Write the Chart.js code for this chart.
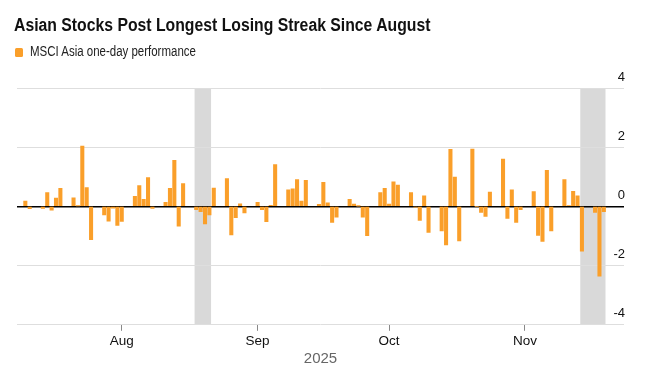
<!DOCTYPE html>
<html>
<head>
<meta charset="utf-8">
<script src="https://cdn.jsdelivr.net/npm/chart.js@4"></script>
<style>
  body { margin: 0; background: #fff; font-family: "Liberation Sans", Arial, sans-serif; }
  #wrap { position: relative; width: 663px; height: 366px; }
  #title {
    position: absolute; left: 14px; top: 16px; font-size: 18px; line-height: 18px;
    font-weight: bold; color: #111; white-space: nowrap;
    transform: scaleX(0.876); transform-origin: left top;
  }
  #legend {
    position: absolute; left: 15px; top: 43px; font-size: 14px; line-height: 16px;
    color: #222; white-space: nowrap;
  }
  #legend .box {
    position: absolute; left: 0; top: 4.7px; width: 8px; height: 9px;
    background: #FA9F2A; border-radius: 1.5px;
  }
  #legend .txt {
    position: absolute; left: 14.7px; top: 0;
    transform: scaleX(0.82); transform-origin: left top;
  }
  canvas { position: absolute; left: 0; top: 0; }
</style>
</head>
<body>
<div id="wrap">
  <canvas id="chart" width="663" height="366"></canvas>
  <div id="title">Asian Stocks Post Longest Losing Streak Since August</div>
  <div id="legend"><span class="box"></span><span class="txt">MSCI Asia one-day performance</span></div>
</div>
<script>
// trading days, MSCI Asia one-day % change
const dates = [
  '2025-07-10', '2025-07-11', '2025-07-14', '2025-07-15', '2025-07-16', '2025-07-17', '2025-07-18',
  '2025-07-21', '2025-07-22', '2025-07-23', '2025-07-24', '2025-07-25',
  '2025-07-28', '2025-07-29', '2025-07-30', '2025-07-31', '2025-08-01',
  '2025-08-04', '2025-08-05', '2025-08-06', '2025-08-07', '2025-08-08',
  '2025-08-11', '2025-08-12', '2025-08-13', '2025-08-14', '2025-08-15',
  '2025-08-18', '2025-08-19', '2025-08-20', '2025-08-21', '2025-08-22',
  '2025-08-25', '2025-08-26', '2025-08-27', '2025-08-28', '2025-08-29',
  '2025-09-01', '2025-09-02', '2025-09-03', '2025-09-04', '2025-09-05',
  '2025-09-08', '2025-09-09', '2025-09-10', '2025-09-11', '2025-09-12',
  '2025-09-15', '2025-09-16', '2025-09-17', '2025-09-18', '2025-09-19',
  '2025-09-22', '2025-09-23', '2025-09-24', '2025-09-25', '2025-09-26',
  '2025-09-29', '2025-09-30', '2025-10-01', '2025-10-02', '2025-10-03',
  '2025-10-06', '2025-10-07', '2025-10-08', '2025-10-09', '2025-10-10',
  '2025-10-13', '2025-10-14', '2025-10-15', '2025-10-16', '2025-10-17',
  '2025-10-20', '2025-10-21', '2025-10-22', '2025-10-23', '2025-10-24',
  '2025-10-27', '2025-10-28', '2025-10-29', '2025-10-30', '2025-10-31',
  '2025-11-03', '2025-11-04', '2025-11-05', '2025-11-06', '2025-11-07',
  '2025-11-10', '2025-11-11', '2025-11-12', '2025-11-13', '2025-11-14',
  '2025-11-17', '2025-11-18', '2025-11-19'
];
const perf = [
  0.18, -0.08, -0.07, 0.47, -0.13, 0.28, 0.61,
  0.29, 0.02, 2.04, 0.64, -1.12,
  -0.29, -0.50, -0.06, -0.64, -0.51,
  0.34, 0.70, 0.24, 0.97, -0.07,
  0.14, 0.61, 1.56, -0.67, 0.77,
  -0.11, -0.18, -0.59, -0.29, 0.62,
  0.94, -0.96, -0.38, 0.09, -0.22,
  0.14, -0.11, -0.52, 0.04, 1.41,
  0.56, 0.59, 0.91, 0.18, 0.88,
  0.07, 0.81, 0.12, -0.54, -0.36,
  0.24, 0.08, 0.01, -0.36, -0.99,
  0.47, 0.61, 0.08, 0.83, 0.72,
  0.47, -0.03, -0.47, 0.36, -0.88,
  -0.83, -1.30, 1.93, 0.99, -1.17,
  1.94, 0.00, -0.20, -0.34, 0.48,
  1.60, -0.41, 0.56, -0.54, -0.11,
  0.50, -0.98, -1.18, 1.22, -0.83,
  0.91, 0.03, 0.51, 0.36, -1.51,
  -0.20, -2.36, -0.18
];
const monthTicks = ['2025-08-01', '2025-09-01', '2025-10-01', '2025-11-01'];
const monthLabels = ['Aug', 'Sep', 'Oct', 'Nov'];
const yTicks = [-4, -2, 0, 2, 4];
// losing streaks highlighted in grey
const streakStart = ['2025-08-18', '2025-11-14'];
const streakEnd = ['2025-08-21', '2025-11-19'];

const dayNum = (s) => {
  const [y, m, d] = s.split('-').map(Number);
  return Date.UTC(y, m - 1, d) / 864e5;
};

const streakShade = {
  id: 'streakShade',
  beforeDraw(chart) {
    const { ctx, chartArea, scales } = chart;
    ctx.save();
    ctx.fillStyle = '#d9d9d9';
    streakStart.forEach((s, i) => {
      const x1 = scales.x.getPixelForValue(dayNum(s) - 0.38);
      const x2 = scales.x.getPixelForValue(dayNum(streakEnd[i]) + 0.38);
      ctx.fillRect(x1, chartArea.top, x2 - x1, chartArea.bottom - chartArea.top);
    });
    ctx.restore();
  }
};

const ctx = document.getElementById('chart').getContext('2d');
new Chart(ctx, {
  type: 'bar',
  data: {
    datasets: [{
      label: 'MSCI Asia one-day performance',
      data: dates.map((d, i) => ({ x: dayNum(d), y: perf[i] })),
      backgroundColor: '#FA9F2A',
      borderWidth: 0,
      barThickness: 3.4,
    }],
  },
  options: {
    responsive: false,
    animation: false,
    layout: { padding: { left: 17, right: 39, top: 88, bottom: 0 } },
    plugins: {
      legend: { display: false },
      tooltip: { enabled: false },
    },
    scales: {
      x: {
        type: 'linear',
        offset: false,
        min: dayNum('2025-07-08') + 0.1,
        max: dayNum('2025-11-23') + 0.6,
        afterBuildTicks: (axis) => {
          axis.ticks = monthTicks.map((d) => ({ value: dayNum(d) }));
        },
        grid: { display: true, offset: false, drawOnChartArea: false, drawTicks: true, tickLength: 6, color: '#888', tickWidth: 1 },
        border: { display: false },
        ticks: {
          padding: 2,
          maxRotation: 0,
          autoSkip: false,
          color: '#111',
          font: { family: 'Liberation Sans', size: 13.5 },
          callback: (v, i) => monthLabels[i],
        },
        title: {
          display: true,
          text: '2025',
          color: '#666',
          padding: 0,
          font: { family: 'Liberation Sans', size: 15, lineHeight: 1 },
        },
      },
      y: {
        position: 'right',
        min: -4,
        max: 4,
        afterBuildTicks: (axis) => {
          axis.ticks = yTicks.map((v) => ({ value: v }));
        },
        afterFit: (axis) => {
          axis.width = 0;
        },
        grid: {
          drawTicks: false,
          color: (c) => (c.tick && c.tick.value === 0 ? '#000' : '#dedede'),
          lineWidth: (c) => (c.tick && c.tick.value === 0 ? 1.4 : 1),
        },
        border: { display: false },
        ticks: {
          mirror: true,
          padding: 1,
          labelOffset: -11,
          color: '#111',
          font: { family: 'Liberation Sans', size: 13 },
        },
      },
    },
  },
  plugins: [streakShade],
});
</script>
</body>
</html>
